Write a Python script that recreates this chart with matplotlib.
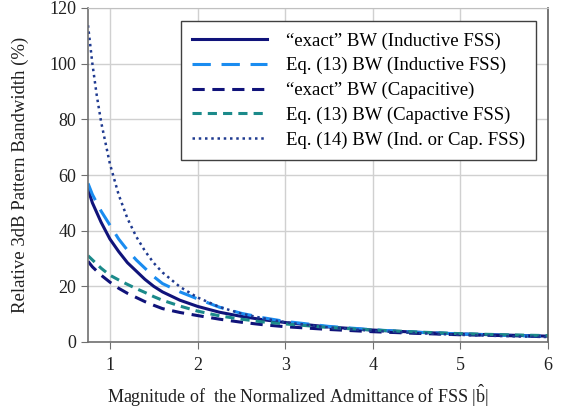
import matplotlib
matplotlib.use("Agg")
import matplotlib.pyplot as plt

plt.rcParams['font.family'] = ['Liberation Serif', 'DejaVu Serif']
plt.rcParams['mathtext.fontset'] = 'custom'
plt.rcParams['mathtext.rm'] = 'Liberation Serif'
plt.rcParams['mathtext.it'] = 'Liberation Serif:italic'

b = [0.75, 0.8, 0.85, 0.9, 1.0, 1.1, 1.2, 1.3, 1.4, 1.5, 1.6, 1.8, 2.0,
     2.25, 2.5, 2.75, 3.0, 3.5, 4.0, 4.5, 5.0, 5.5, 6.0]

exact_ind = [55, 50, 46.5, 43, 37, 32.5, 28.5, 25.5, 22.5, 20, 18, 15, 12.8,
             10.7, 9.2, 8.0, 7.0, 5.4, 4.3, 3.5, 2.9, 2.5, 2.1]
eq13_ind = [57, 53, 50, 47, 42, 37, 33, 29.5, 26.5, 23.5, 21, 18, 15.5,
            12.5, 10.3, 8.7, 7.4, 5.6, 4.4, 3.5, 2.9, 2.4, 2.0]
exact_cap = [29, 27, 25.5, 24, 21.5, 19.3, 17.5, 16, 14.5, 13.2, 12, 10.6, 9.5,
             8.2, 7.1, 6.2, 5.5, 4.5, 3.7, 3.1, 2.6, 2.3, 2.0]
eq13_cap = [31, 29.5, 28, 26.5, 24, 22.3, 20.7, 19.2, 17.8, 16.3, 15, 12.9, 11.1,
            9.4, 8.2, 7.2, 6.5, 5.2, 4.3, 3.6, 3.0, 2.6, 2.3]
eq14 = [113.8, 100, 88.6, 79, 64, 52.9, 44.4, 37.9, 32.7, 28.4, 25, 19.8, 16,
        12.6, 10.2, 8.5, 7.1, 5.2, 4.0, 3.2, 2.56, 2.1, 1.78]

labels = ['\u201cexact\u201d BW (Inductive FSS)',
          'Eq. (13) BW (Inductive FSS)',
          '\u201cexact\u201d BW (Capacitive)',
          'Eq. (13) BW (Capactive FSS)',
          'Eq. (14) BW (Ind. or Cap. FSS)']

xticks = [1, 2, 3, 4, 5, 6]
yticks = [0, 20, 40, 60, 80, 100, 120]

fig = plt.figure(figsize=(5.70, 4.13), dpi=100)
ax = fig.add_axes([88/570, 71/413, 460/570, 334/413])

ax.plot(b, exact_ind, color='#10137a', lw=2.2, ls='-', label=labels[0])
ax.plot(b, eq13_ind, color='#1a8cf0', lw=2.2, ls=(0, (6, 3.5)), label=labels[1])
ax.plot(b, exact_cap, color='#10137a', lw=2.2, ls=(0, (4, 2.5)), label=labels[2])
ax.plot(b, eq13_cap, color='#1b8a8a', lw=2.2, ls=(0, (3, 2)), label=labels[3])
ax.plot(b, eq14, color='#1f3a90', lw=1.8, ls=(0, (1, 1.5)), label=labels[4])

ax.set_xlim(0.75, 6)
ax.set_ylim(0, 120)
ax.set_xticks(xticks)
ax.set_yticks(yticks)
ax.grid(True, color='#d0d0d0', lw=1.0)
ax.set_axisbelow(True)

for s in ['left', 'bottom']:
    ax.spines[s].set_color('#707070')
    ax.spines[s].set_linewidth(1.2)
ax.spines['top'].set_color('#c0c0c0')
ax.spines['right'].set_color('#606060')
ax.spines['right'].set_linewidth(1.2)
ax.tick_params(axis='both', labelsize=13, color='#707070', length=5,
               direction='out', labelcolor='#202020')
ax.tick_params(axis='x', pad=6)

ax.set_xlabel(r'Magnitude of  the Normalized Admittance of FSS $|\hat{\mathrm{b}}|$',
              fontsize=13, color='#202020')
ax.xaxis.set_label_coords((298-88)/460, -(383-342)/334)
ax.set_ylabel('Relative 3dB Pattern Bandwidth (%)', fontsize=13.5,
              color='#202020')
ax.yaxis.set_label_coords(-(88-29)/460, 0.5)

leg = ax.legend(loc='upper left', bbox_to_anchor=((181-88)/460, (342-21)/334),
                fontsize=13.5, frameon=True, fancybox=False, handlelength=4.0,
                handletextpad=1.0, labelspacing=0.4, borderpad=0.6,
                borderaxespad=0)
leg.get_frame().set_edgecolor('#404040')
leg.get_frame().set_linewidth(1.0)
leg.get_frame().set_alpha(1)

fig.savefig('out.png', dpi=100)
